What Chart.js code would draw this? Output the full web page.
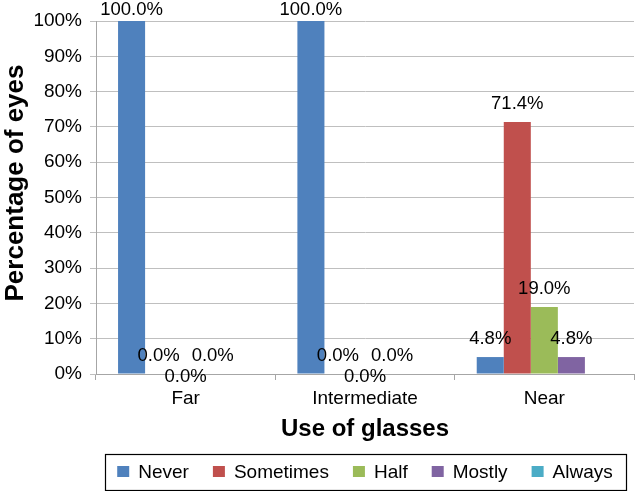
<!DOCTYPE html>
<html>
<head>
<meta charset="utf-8">
<script src="https://cdn.jsdelivr.net/npm/chart.js@4"></script>
<style>
  html, body { margin: 0; padding: 0; background: #fff; }
  #wrap { width: 638px; height: 491px; }
</style>
</head>
<body>
<div id="wrap"><canvas id="graphique"></canvas></div>
<script>
// données
var categories = ['Far', 'Intermediate', 'Near'];
var seriesNames = ['Never', 'Sometimes', 'Half', 'Mostly', 'Always'];
var never = [100, 100, 4.8];
var sometimes = [0, 0, 71.4];
var half = [0, 0, 19.0];
var mostly = [0, 0, 4.8];
var always = [null, null, null];
var colors = ['#4F81BD', '#C0504D', '#9BBB59', '#8064A2', '#4BACC6'];

var FONT = "'Liberation Sans', Arial, sans-serif";
Chart.defaults.font.family = FONT;
Chart.defaults.color = '#000';

// étiquettes de valeurs au-dessus des barres (avec évitement simple des chevauchements)
var valueLabels = {
  id: 'valueLabels',
  afterDatasetsDraw: function(chart) {
    var ctx = chart.ctx;
    ctx.save();
    ctx.font = '18.5px ' + FONT;
    ctx.fillStyle = '#000';
    ctx.textAlign = 'center';
    ctx.textBaseline = 'middle';
    var placed = [];
    chart.data.datasets.forEach(function(ds, i) {
      var meta = chart.getDatasetMeta(i);
      meta.data.forEach(function(bar, j) {
        var v = ds.data[j];
        if (v === null || v === undefined) return;
        var txt = v.toFixed(1) + '%';
        var w = ctx.measureText(txt).width;
        var x = bar.x;
        var y = Math.max(bar.y - 18, 10);
        placed.forEach(function(p) {
          if (Math.abs(p.x - x) < (p.w + w) / 2 && Math.abs(p.y - y) < 18) {
            y = y + 21;
          }
        });
        placed.push({x: x, y: y, w: w});
        ctx.fillText(txt, x, y);
      });
    });
    ctx.restore();
  }
};

// légende encadrée + titre de l'axe Y
var extras = {
  id: 'extras',
  afterDraw: function(chart) {
    var ctx = chart.ctx;
    var area = chart.chartArea;
    ctx.save();

    // titre axe Y
    ctx.font = 'bold 26px ' + FONT;
    ctx.fillStyle = '#000';
    ctx.textAlign = 'center';
    ctx.textBaseline = 'middle';
    ctx.translate(16, 183);
    ctx.rotate(-Math.PI / 2);
    ctx.fillText('Percentage of eyes', 0, 0);
    ctx.setTransform(1, 0, 0, 1, 0, 0);

    // légende
    ctx.font = '19px ' + FONT;
    var box = 12, gap = 24, textOff = 21;
    var widths = chart.data.datasets.map(function(ds) {
      return textOff + ctx.measureText(ds.label).width;
    });
    var total = widths.reduce(function(a, b) { return a + b; }, 0) + gap * (widths.length - 1);
    var cx = (area.left + area.right) / 2;
    var x = cx - total / 2;
    var yc = 472;
    ctx.strokeStyle = '#000';
    ctx.lineWidth = 1.2;
    ctx.strokeRect(Math.round(x - 12) + 0.5, 454.5, Math.round(total + 25), 36);
    ctx.textAlign = 'left';
    chart.data.datasets.forEach(function(ds, i) {
      ctx.fillStyle = ds.backgroundColor;
      ctx.fillRect(x, yc - 6, box, 11);
      ctx.fillStyle = '#000';
      ctx.fillText(ds.label, x + textOff, yc + 1);
      x += widths[i] + gap;
    });
    ctx.restore();
  }
};

var series = [never, sometimes, half, mostly, always];
var ctx = document.getElementById('graphique').getContext('2d');
var chart = new Chart(ctx, {
  type: 'bar',
  data: {
    labels: categories,
    datasets: series.map(function(d, i) {
      return {
        label: seriesNames[i],
        data: d,
        backgroundColor: colors[i],
        borderWidth: 0,
        categoryPercentage: 0.754,
        barPercentage: 1.0
      };
    })
  },
  options: {
    responsive: true,
    maintainAspectRatio: false,
    animation: false,
    layout: { padding: { top: 21, right: 4, bottom: 47, left: 0 } },
    plugins: {
      legend: { display: false },
      tooltip: { enabled: false }
    },
    scales: {
      x: {
        grid: { display: true, drawOnChartArea: false, offset: true, tickLength: 6, color: '#A6A6A6' },
        border: { color: '#A6A6A6' },
        ticks: { font: { size: 19 }, color: '#000', padding: 7 },
        title: { display: true, text: 'Use of glasses', font: { size: 24, weight: 'bold' }, color: '#000', padding: 0 },
        afterFit: function(s) { s.height = 70; }
      },
      y: {
        min: 0,
        max: 100,
        grid: { color: '#BFBFBF', tickLength: 6 },
        border: { color: '#A6A6A6' },
        ticks: {
          stepSize: 10,
          font: { size: 19 },
          color: '#000',
          padding: 8,
          callback: function(value) { return value + '%'; }
        },
        afterFit: function(s) { s.width = 96; }
      }
    }
  },
  plugins: [valueLabels, extras]
});
</script>
</body>
</html>
